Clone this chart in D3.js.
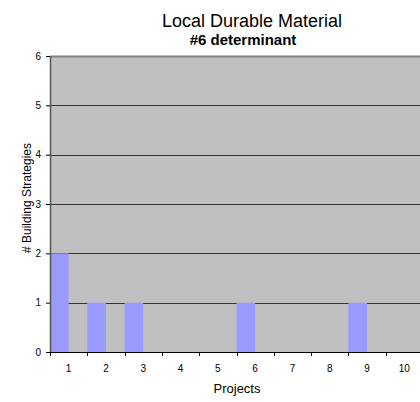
<!DOCTYPE html>
<html><head><meta charset="utf-8">
<script src="https://cdn.jsdelivr.net/npm/d3@7"></script>
<style>body{margin:0;background:#fff}svg{display:block;font-family:"Liberation Sans",Arial,sans-serif}</style>
</head><body>
<svg id="c" width="420" height="402"></svg>
<script>
const categories = ["1","2","3","4","5","6","7","8","9","10"];
const values = [2,1,1,0,0,1,0,0,1,0];
const yTicks = [0,1,2,3,4,5,6];
const title = "Local Durable Material";
const subtitle = "#6 determinant";
const xTitle = "Projects";
const yTitle = "# Building Strategies";

const svg = d3.select("#c");
const L = 50, T = 56, B = 352, R = 423;
const x = d3.scaleBand().domain(categories).range([L, R]).padding(0);
const y = d3.scaleLinear().domain([0,6]).range([B, T]);

svg.append("rect").attr("x", L).attr("y", T).attr("width", R-L).attr("height", B-T).attr("fill", "#C0C0C0");

// gridlines
svg.append("g").selectAll("line").data(yTicks.filter(d=>d>0)).join("line")
  .attr("x1", L).attr("x2", R)
  .attr("y1", d=>Math.round(y(d))+0.5).attr("y2", d=>Math.round(y(d))+0.5)
  .attr("stroke", d=> d===6 ? "#808080" : "#333").attr("stroke-width", d=> d===6?2:1);

// bars: occupy left half of each band
svg.append("g").selectAll("rect").data(values).join("rect")
  .attr("x", (d,i)=>x(categories[i]))
  .attr("width", x.bandwidth()/2)
  .attr("y", d=>y(d)).attr("height", d=>B - y(d))
  .attr("fill", "#9999FF");

// y axis
const ya = d3.axisLeft(y).tickValues(yTicks).tickFormat(d3.format("d")).tickSize(4).tickPadding(5);
const yg = svg.append("g").attr("transform", `translate(${L},0)`).call(ya);
yg.select(".domain").attr("stroke", "#555").attr("stroke-width", 1.5).attr("d", `M0.5,${T}V${B}`);
yg.selectAll(".tick line").attr("stroke", "#000");
yg.selectAll("text").attr("font-size", 10).attr("fill", "#000").attr("font-family", "Liberation Sans, Arial, sans-serif");

// x axis: ticks at band boundaries, labels at centers
const xg = svg.append("g").attr("transform", `translate(0,${B})`);
xg.append("line").attr("x1", L).attr("x2", R).attr("y1", 0.5).attr("y2", 0.5).attr("stroke", "#000");
xg.selectAll(".xt").data(categories).join("line").attr("class","xt")
  .attr("x1", d=>Math.round(x(d))+0.5).attr("x2", d=>Math.round(x(d))+0.5)
  .attr("y1", 0).attr("y2", 4).attr("stroke", "#000");
xg.selectAll(".xl").data(categories).join("text").attr("class","xl")
  .attr("x", d=>x(d)+x.bandwidth()/2).attr("y", 20)
  .attr("text-anchor", "middle").attr("font-size", 10).text(d=>d);

svg.append("text").attr("x", 252).attr("y", 27).attr("text-anchor","middle").attr("font-size", 18).text(title);
svg.append("text").attr("x", 243).attr("y", 45).attr("text-anchor","middle").attr("font-size", 15).attr("font-weight","bold").text(subtitle);
svg.append("text").attr("x", 237).attr("y", 393).attr("text-anchor","middle").attr("font-size", 13).text(xTitle);
svg.append("text").attr("transform", "translate(31,198) rotate(-90)").attr("text-anchor","middle").attr("font-size", 12).text(yTitle);
</script>
</body></html>
